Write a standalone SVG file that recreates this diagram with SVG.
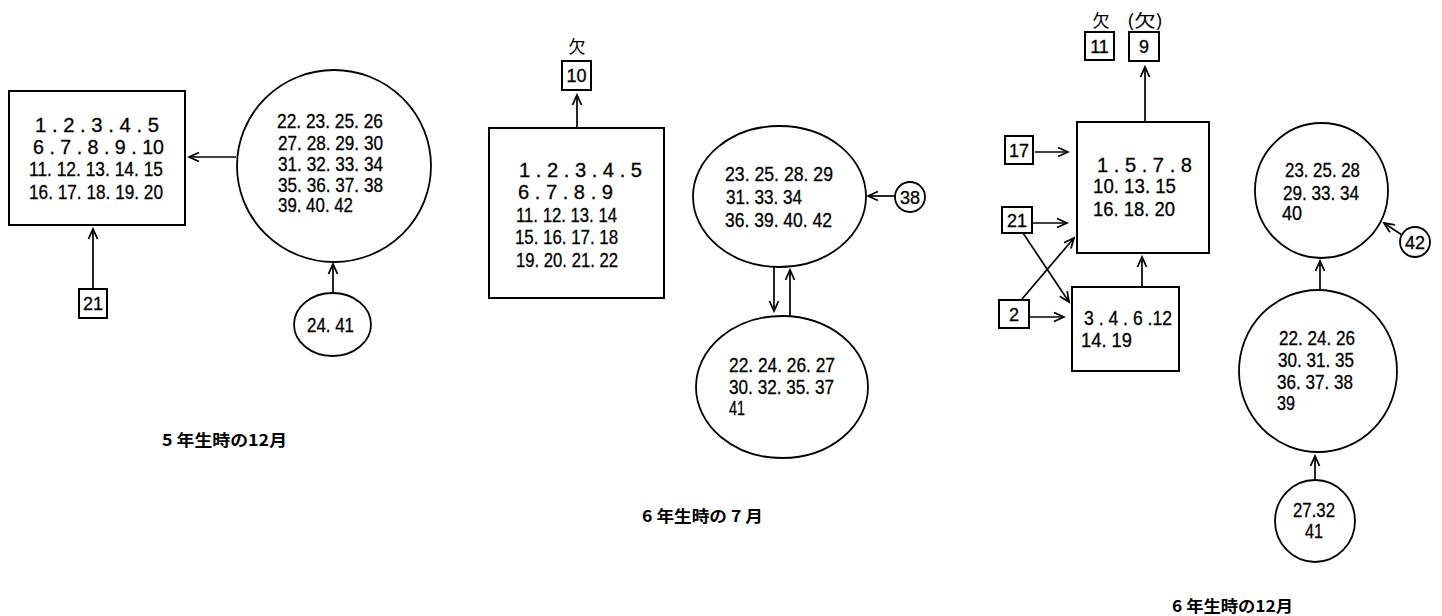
<svg xmlns="http://www.w3.org/2000/svg" width="1442" height="616" viewBox="0 0 1442 616">
<defs>
<style>
.bg{fill:#fff}
.box{fill:none;stroke:#000;stroke-width:2}
.sbox{fill:none;stroke:#000;stroke-width:2}
.ell{fill:none;stroke:#000;stroke-width:1.8}
.t{font-family:"Liberation Sans","Noto Sans",sans-serif;font-size:20px;fill:#000;stroke:#000;stroke-width:0.3}
.n{font-family:"Liberation Sans","Noto Sans",sans-serif;font-size:18px;fill:#000;stroke:#000;stroke-width:0.3;text-anchor:middle}
.j{font-family:"Noto Sans CJK JP","Noto Sans CJK SC",sans-serif;font-size:16px;font-weight:bold;fill:#000}
.k{font-family:"Noto Sans CJK JP","Noto Sans CJK SC",sans-serif;font-size:17px;fill:#000}
.c line{stroke:#000;stroke-width:1.7;marker-end:url(#ah)}
</style>
<marker id="ah" markerUnits="userSpaceOnUse" viewBox="-11 -6 13 12" markerWidth="13" markerHeight="12" refX="0" refY="0" orient="auto">
<path d="M-10,-4.5 L0,0 L-10,4.5" fill="none" stroke="#000" stroke-width="1.8"/>
</marker>
</defs>
<rect class="bg" x="0" y="0" width="1442" height="616"/>

<!-- Left diagram: 5年生時の12月 -->
<g id="L-rect">
<rect class="box" x="9" y="91" width="176" height="134"/>
<text class="t" x="35" y="132" textLength="124" lengthAdjust="spacingAndGlyphs">1 . 2 . 3 . 4 . 5</text>
<text class="t" x="33" y="154" textLength="131" lengthAdjust="spacingAndGlyphs">6 . 7 . 8 . 9 . 10</text>
<text class="t" x="29" y="176" textLength="134" lengthAdjust="spacingAndGlyphs">11. 12. 13. 14. 15</text>
<text class="t" x="29" y="199" textLength="134" lengthAdjust="spacingAndGlyphs">16. 17. 18. 19. 20</text>
</g>
<g id="L-circle">
<ellipse class="ell" cx="334" cy="166" rx="97" ry="96"/>
<text class="t" x="277" y="128" textLength="106" lengthAdjust="spacingAndGlyphs">22. 23. 25. 26</text>
<text class="t" x="278" y="150" textLength="105" lengthAdjust="spacingAndGlyphs">27. 28. 29. 30</text>
<text class="t" x="278" y="171" textLength="105" lengthAdjust="spacingAndGlyphs">31. 32. 33. 34</text>
<text class="t" x="278" y="192" textLength="105" lengthAdjust="spacingAndGlyphs">35. 36. 37. 38</text>
<text class="t" x="278" y="212" textLength="75" lengthAdjust="spacingAndGlyphs">39. 40. 42</text>
</g>
<g id="L-21">
<rect class="sbox" x="79" y="289" width="28" height="29"/>
<text class="n" x="93" y="310">21</text>
</g>
<g id="L-2441">
<ellipse class="ell" cx="332.5" cy="324.5" rx="38.5" ry="31.5"/>
<text class="t" x="307" y="332" textLength="47" lengthAdjust="spacingAndGlyphs">24. 41</text>
</g>
<text class="j" x="162" y="446" textLength="125" lengthAdjust="spacingAndGlyphs">5 年生時の12月</text>

<!-- Middle diagram: 6年生時の7月 -->
<g id="M-10">
<text class="k" x="577" y="53" text-anchor="middle">欠</text>
<rect class="sbox" x="562" y="61" width="29" height="29"/>
<text class="n" x="576.5" y="82">10</text>
</g>
<g id="M-rect">
<rect class="box" x="489" y="128" width="175" height="170"/>
<text class="t" x="519" y="177" textLength="123" lengthAdjust="spacingAndGlyphs">1 . 2 . 3 . 4 . 5</text>
<text class="t" x="518" y="199" textLength="95" lengthAdjust="spacingAndGlyphs">6 . 7 . 8 . 9</text>
<text class="t" x="516" y="222" textLength="101" lengthAdjust="spacingAndGlyphs">11. 12. 13. 14</text>
<text class="t" x="515" y="244" textLength="103" lengthAdjust="spacingAndGlyphs">15. 16. 17. 18</text>
<text class="t" x="516" y="267" textLength="102" lengthAdjust="spacingAndGlyphs">19. 20. 21. 22</text>
</g>
<g id="M-ell-top">
<ellipse class="ell" cx="779.5" cy="196.5" rx="86.5" ry="70.5"/>
<text class="t" x="725" y="181" textLength="108" lengthAdjust="spacingAndGlyphs">23. 25. 28. 29</text>
<text class="t" x="726" y="204" textLength="76" lengthAdjust="spacingAndGlyphs">31. 33. 34</text>
<text class="t" x="725" y="227" textLength="107" lengthAdjust="spacingAndGlyphs">36. 39. 40. 42</text>
</g>
<g id="M-38">
<circle class="ell" cx="910" cy="197" r="15"/>
<text class="n" x="910" y="203.5">38</text>
</g>
<g id="M-ell-bottom">
<ellipse class="ell" cx="782" cy="387" rx="86" ry="71"/>
<text class="t" x="729" y="372" textLength="106" lengthAdjust="spacingAndGlyphs">22. 24. 26. 27</text>
<text class="t" x="729" y="394" textLength="105" lengthAdjust="spacingAndGlyphs">30. 32. 35. 37</text>
<text class="t" x="729" y="415" textLength="16" lengthAdjust="spacingAndGlyphs">41</text>
</g>
<text class="j" x="642" y="522" textLength="121" lengthAdjust="spacingAndGlyphs">6 年生時の 7 月</text>

<!-- Right diagram: 6年生時の12月 -->
<g id="R-11">
<text class="k" x="1101" y="27" text-anchor="middle">欠</text>
<rect class="sbox" x="1085" y="32" width="29" height="28"/>
<text class="n" x="1099.5" y="52.5">11</text>
</g>
<g id="R-9">
<text class="k" x="1127" y="27" textLength="36" lengthAdjust="spacingAndGlyphs">(欠)</text>
<rect class="sbox" x="1129" y="32" width="30" height="29"/>
<text class="n" x="1144" y="53">9</text>
</g>
<g id="R-rect">
<rect class="box" x="1077" y="122" width="132" height="131"/>
<text class="t" x="1097" y="172" textLength="95" lengthAdjust="spacingAndGlyphs">1 . 5 . 7 . 8</text>
<text class="t" x="1093" y="193" textLength="83" lengthAdjust="spacingAndGlyphs">10. 13. 15</text>
<text class="t" x="1093" y="216" textLength="82" lengthAdjust="spacingAndGlyphs">16. 18. 20</text>
</g>
<g id="R-17">
<rect class="sbox" x="1005" y="136" width="28" height="28"/>
<text class="n" x="1019" y="156.5">17</text>
</g>
<g id="R-21">
<rect class="sbox" x="1002" y="207" width="30" height="26"/>
<text class="n" x="1017" y="226.5">21</text>
</g>
<g id="R-2">
<rect class="sbox" x="999" y="300" width="30" height="28"/>
<text class="n" x="1014" y="320.5">2</text>
</g>
<g id="R-srect">
<rect class="box" x="1072" y="287" width="107" height="84"/>
<text class="t" x="1084" y="325" textLength="88" lengthAdjust="spacingAndGlyphs">3 . 4 . 6 .12</text>
<text class="t" x="1081" y="347" textLength="51" lengthAdjust="spacingAndGlyphs">14. 19</text>
</g>
<g id="R-circle-top">
<ellipse class="ell" cx="1321.5" cy="190.5" rx="66.5" ry="67.5"/>
<text class="t" x="1285" y="177" textLength="75" lengthAdjust="spacingAndGlyphs">23. 25. 28</text>
<text class="t" x="1283" y="200" textLength="76" lengthAdjust="spacingAndGlyphs">29. 33. 34</text>
<text class="t" x="1282" y="220" textLength="20" lengthAdjust="spacingAndGlyphs">40</text>
</g>
<g id="R-42">
<circle class="ell" cx="1415" cy="242" r="15"/>
<text class="n" x="1415" y="248.5">42</text>
</g>
<g id="R-circle-mid">
<ellipse class="ell" cx="1318" cy="371" rx="79" ry="81"/>
<text class="t" x="1279" y="345" textLength="76" lengthAdjust="spacingAndGlyphs">22. 24. 26</text>
<text class="t" x="1278" y="367" textLength="76" lengthAdjust="spacingAndGlyphs">30. 31. 35</text>
<text class="t" x="1277" y="389" textLength="76" lengthAdjust="spacingAndGlyphs">36. 37. 38</text>
<text class="t" x="1277" y="410" textLength="18" lengthAdjust="spacingAndGlyphs">39</text>
</g>
<g id="R-circle-bottom">
<ellipse class="ell" cx="1315" cy="521" rx="40" ry="41"/>
<text class="t" x="1293" y="517" textLength="42" lengthAdjust="spacingAndGlyphs">27.32</text>
<text class="t" x="1305" y="538" textLength="18" lengthAdjust="spacingAndGlyphs">41</text>
</g>
<text class="j" x="1172" y="612" textLength="121" lengthAdjust="spacingAndGlyphs">6 年生時の12月</text>

<!-- Connectors -->
<g id="connectors" class="c">
<line x1="236" y1="157" x2="189" y2="157"/>
<line x1="93" y1="289" x2="93" y2="229"/>
<line x1="333" y1="293" x2="333" y2="264"/>
<line x1="577" y1="128" x2="577" y2="95"/>
<line x1="774" y1="267" x2="774" y2="311"/>
<line x1="790" y1="317" x2="790" y2="270"/>
<line x1="895" y1="196" x2="868" y2="196"/>
<line x1="1145" y1="122" x2="1145" y2="67"/>
<line x1="1035" y1="152" x2="1068" y2="152"/>
<line x1="1032" y1="223" x2="1067" y2="223"/>
<line x1="1029" y1="317" x2="1064" y2="317"/>
<line x1="1022" y1="299" x2="1074" y2="238"/>
<line x1="1023" y1="233" x2="1069" y2="302"/>
<line x1="1142" y1="287" x2="1142" y2="257"/>
<line x1="1320" y1="290" x2="1320" y2="261"/>
<line x1="1402" y1="235" x2="1384" y2="223"/>
<line x1="1315" y1="480" x2="1315" y2="456"/>
</g>
</svg>
